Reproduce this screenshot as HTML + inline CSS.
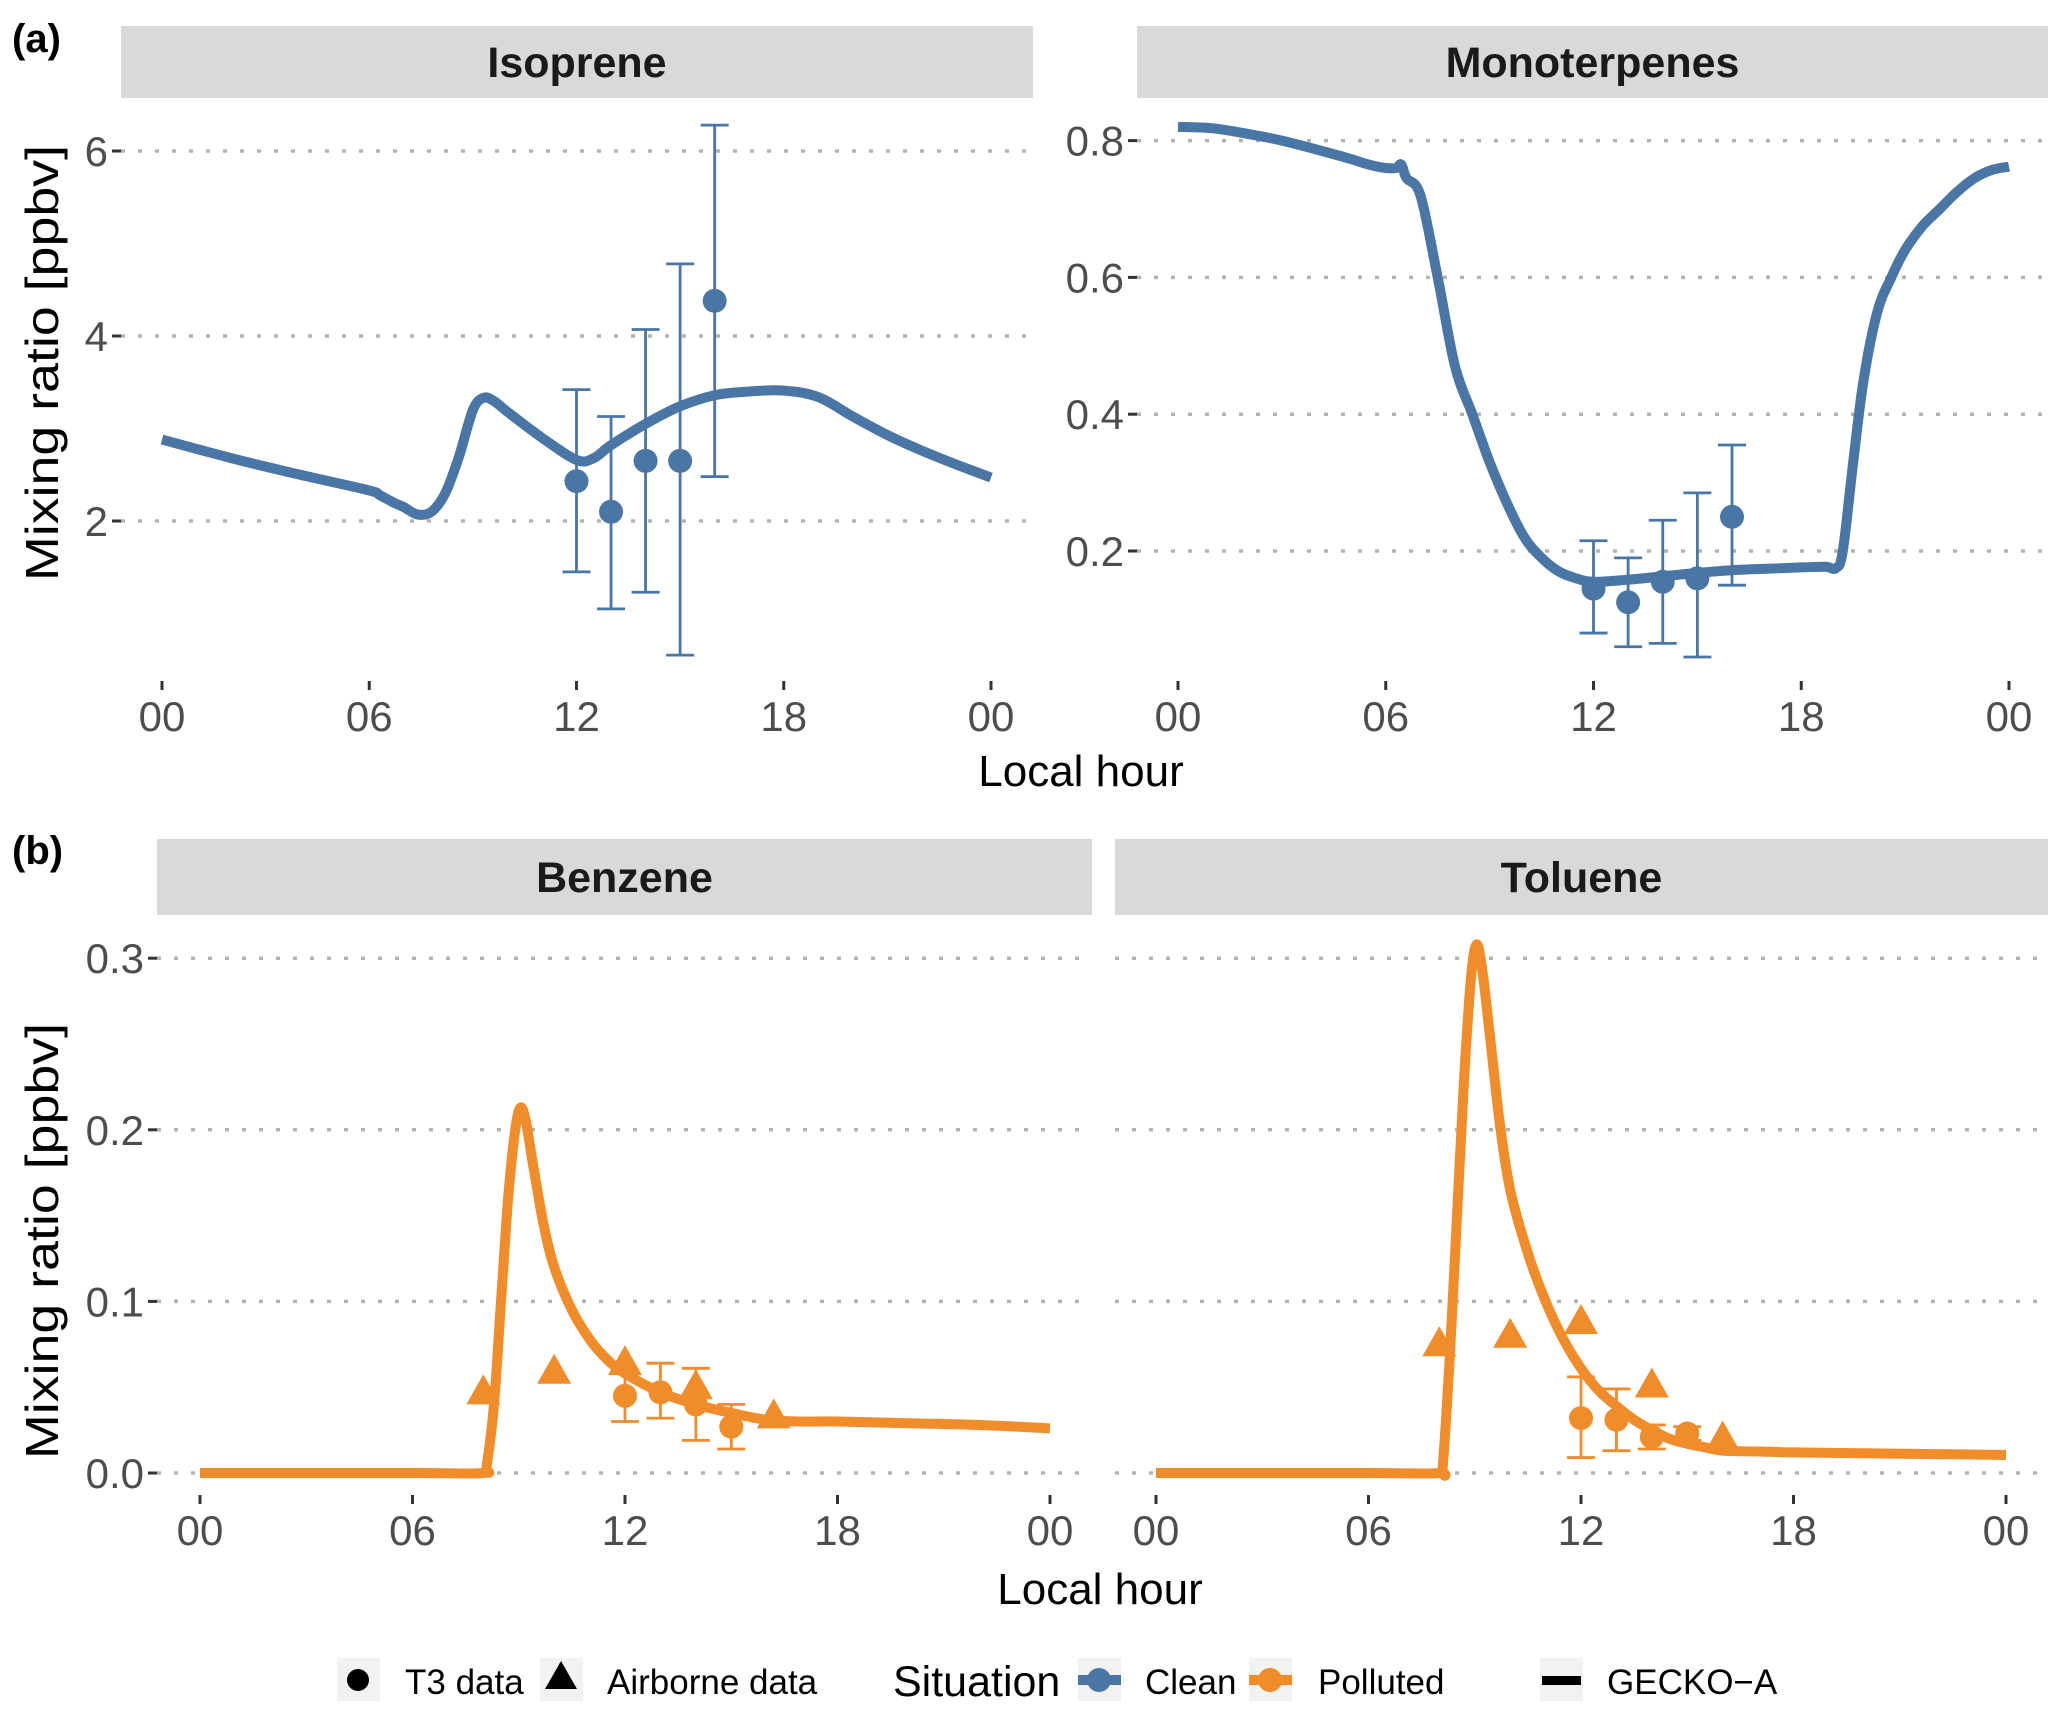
<!DOCTYPE html>
<html><head><meta charset="utf-8"><style>
html,body{margin:0;padding:0;background:#fff;}
svg{display:block;font-family:"Liberation Sans",Arial,sans-serif;}
</style></head><body>
<svg id="chart" width="2067" height="1719" viewBox="0 0 2067 1719" xmlns="http://www.w3.org/2000/svg"></svg>
<script>
// ---- data ----
const isoCurveH = [0,2,4,6,6.3,6.7,7,7.4,7.8,8.2,8.6,9,9.3,9.6,10,11,12,12.5,13,14,15,16,17,18,19,20,21,22,23,24];
const isoCurveV = [2.88,2.68,2.5,2.33,2.28,2.2,2.15,2.07,2.1,2.3,2.7,3.2,3.33,3.3,3.18,2.9,2.66,2.68,2.82,3.05,3.24,3.36,3.4,3.41,3.34,3.13,2.93,2.76,2.61,2.47];
const isoObsH = [12,13,14,15,16];
const isoObsV = [2.43,2.1,2.65,2.65,4.38];
const isoObsLo = [1.45,1.05,1.23,0.55,2.48];
const isoObsHi = [3.42,3.13,4.07,4.78,6.28];

const monoCurveH = [0,1,2,3,4,5,5.5,6,6.3,6.45,6.6,7,7.5,8,8.5,9,9.5,10,10.5,11,11.5,12,13,14,15,16,17,18,18.7,19,19.2,19.5,19.8,20.2,20.6,21,21.5,22,22.5,23,23.5,24];
const monoCurveV = [0.82,0.818,0.81,0.8,0.787,0.773,0.765,0.76,0.76,0.765,0.745,0.72,0.6,0.47,0.4,0.33,0.27,0.22,0.19,0.17,0.16,0.155,0.158,0.163,0.168,0.172,0.174,0.176,0.177,0.175,0.2,0.33,0.45,0.55,0.6,0.64,0.675,0.7,0.725,0.745,0.757,0.762];
const monoObsH = [12,13,14,15,16];
const monoObsV = [0.145,0.125,0.155,0.16,0.25];
const monoObsLo = [0.08,0.06,0.065,0.045,0.15];
const monoObsHi = [0.215,0.19,0.245,0.285,0.355];

const benCurveH = [0,6,8,8.1,8.3,8.5,8.7,8.9,9.05,9.2,9.4,9.7,10,10.5,11,11.5,12,13,14,15,16,17,18,20,22,24];
const benCurveV = [0,0,0,0.005,0.04,0.1,0.16,0.2,0.213,0.205,0.18,0.145,0.12,0.095,0.078,0.066,0.058,0.047,0.04,0.035,0.031,0.03,0.03,0.029,0.028,0.026];
const benTriH = [8,10,12,14,16.2];
const benTriV = [0.047,0.059,0.064,0.05,0.033];
const benObsH = [12,13,14,15];
const benObsV = [0.045,0.047,0.04,0.027];
const benObsLo = [0.03,0.032,0.019,0.014];
const benObsHi = [0.058,0.064,0.061,0.04];

const tolCurveH = [0,6,8,8.1,8.3,8.5,8.7,8.9,9.05,9.2,9.4,9.7,10,10.5,11,11.5,12,12.5,13,13.5,14,14.5,15,15.5,16,17,18,20,22,24];
const tolCurveV = [0,0,0,0.005,0.07,0.15,0.23,0.29,0.308,0.295,0.26,0.205,0.165,0.128,0.1,0.078,0.061,0.048,0.039,0.031,0.025,0.02,0.017,0.015,0.013,0.0125,0.012,0.0115,0.011,0.0105];
const tolTriH = [8,10,12,14,16];
const tolTriV = [0.075,0.08,0.088,0.051,0.02];
const tolObsH = [12,13,14,15];
const tolObsV = [0.032,0.031,0.021,0.023];
const tolObsLo = [0.009,0.013,0.014,0.019];
const tolObsHi = [0.056,0.049,0.028,0.027];

const xTickLabels = ["00","06","12","18","00"];
const isoYTicks = [2,4,6];
const monoYTicks = [0.2,0.4,0.6,0.8];
const bYTicks = [0.0,0.1,0.2,0.3];

const BLUE = "#4a76a5", ORANGE = "#f08c2a";
const NS = "http://www.w3.org/2000/svg";
const svg = document.getElementById("chart");
function el(tag, attrs, parent, text){
  const e = document.createElementNS(NS, tag);
  for (const k in attrs) e.setAttribute(k, attrs[k]);
  if (text !== undefined) e.textContent = text;
  (parent || svg).appendChild(e);
  return e;
}
function smoothPath(P){
  let d = "M" + P[0][0].toFixed(1) + "," + P[0][1].toFixed(1);
  for (let i = 0; i < P.length - 1; i++){
    const p0 = P[i-1] || P[i], p1 = P[i], p2 = P[i+1], p3 = P[i+2] || P[i+1];
    const k = 1/6;
    const c1 = [p1[0] + (p2[0]-p0[0])*k, p1[1] + (p2[1]-p0[1])*k];
    const c2 = [p2[0] - (p3[0]-p1[0])*k, p2[1] - (p3[1]-p1[1])*k];
    d += "C" + c1[0].toFixed(1) + "," + c1[1].toFixed(1) + " " + c2[0].toFixed(1) + "," + c2[1].toFixed(1) + " " + p2[0].toFixed(1) + "," + p2[1].toFixed(1);
  }
  return d;
}

function panel(cfg){
  const g = el("g", {});
  
  
  const sx = h => cfg.x0 + h * (cfg.x1 - cfg.x0) / 24;
  const sy = v => cfg.y0 - (v - cfg.v0) * cfg.py;
  const st = el("rect", {x: cfg.sL, y: cfg.sT, width: cfg.sR - cfg.sL, height: cfg.sB - cfg.sT, fill: "#d9d9d9"}, g);
  
  
  const stt = el("text", {x: (cfg.sL + cfg.sR) / 2, y: (cfg.sT + cfg.sB) / 2 + 15, "text-anchor": "middle", "font-size": 43, "font-weight": "bold", fill: "#1a1a1a"}, g, cfg.title);
  
  
  cfg.yTicks.forEach(v => {
    const y = sy(v);
    const gl = el("line", {x1: cfg.pL, x2: cfg.sR, y1: y, y2: y, stroke: "#b3b3b3", "stroke-width": 3.5, "stroke-dasharray": "4 13"}, g);
    
    
    el("line", {x1: cfg.pL - 9, x2: cfg.pL, y1: y, y2: y, stroke: "#333", "stroke-width": 3}, g);
    const t = el("text", {x: cfg.pL - 13, y: y + 15, "text-anchor": "end", "font-size": 42, fill: "#4d4d4d"}, g, cfg.fmt(v));
    
    
  });
  xTickLabels.forEach((lab, i) => {
    const x = sx(i * 6);
    el("line", {x1: x, x2: x, y1: cfg.axY, y2: cfg.axY + 9, stroke: "#333", "stroke-width": 3}, g);
    const t = el("text", {x: x, y: cfg.axY + 50, "text-anchor": "middle", "font-size": 42, fill: "#4d4d4d"}, g, lab);
    
    
  });
  const P = cfg.cH.map((h, i) => [sx(h), sy(cfg.cV[i])]);
  const line = el("path", {d: smoothPath(P), fill: "none", stroke: cfg.color, "stroke-width": 10, "stroke-linejoin": "round", "stroke-linecap": "butt"}, g);
  
  
  if (cfg.tH) cfg.tH.forEach((h, i) => {
    const x = sx(h), y = sy(cfg.tV[i]);
    const tr = el("polygon", {points: `${x},${y-18} ${x-17},${y+12} ${x+17},${y+12}`, fill: cfg.color}, g);
    
    
  });
  cfg.oH.forEach((h, i) => {
    const x = sx(h);
    const eb = el("path", {d: `M${x},${sy(cfg.oLo[i])}V${sy(cfg.oHi[i])}M${x-14},${sy(cfg.oLo[i])}h28M${x-14},${sy(cfg.oHi[i])}h28`, stroke: cfg.color, "stroke-width": 2.8, fill: "none"}, g);
    
    
    const c = el("circle", {cx: x, cy: sy(cfg.oV[i]), r: 12, fill: cfg.color}, g);
    
    
  });
}

const f1 = v => String(v), f2 = v => v.toFixed(1);
panel({name:"isoprene", title:"Isoprene", color:BLUE, x0:162, x1:991, y0:521, v0:2, py:92.5, pL:121, sL:121, sR:1033, sT:26, sB:98, axY:681, yTicks:isoYTicks, fmt:f1, cH:isoCurveH, cV:isoCurveV, oH:isoObsH, oV:isoObsV, oLo:isoObsLo, oHi:isoObsHi});
panel({name:"monoterpenes", title:"Monoterpenes", color:BLUE, x0:1178, x1:2009, y0:551, v0:0.2, py:684, pL:1137, sL:1137, sR:2048, sT:26, sB:98, axY:681, yTicks:monoYTicks, fmt:f2, cH:monoCurveH, cV:monoCurveV, oH:monoObsH, oV:monoObsV, oLo:monoObsLo, oHi:monoObsHi});
panel({name:"benzene", title:"Benzene", color:ORANGE, x0:200, x1:1050, y0:1473, v0:0, py:1716, pL:157, sL:157, sR:1092, sT:839, sB:915, axY:1495, yTicks:bYTicks, fmt:f2, cH:benCurveH, cV:benCurveV, tH:benTriH, tV:benTriV, oH:benObsH, oV:benObsV, oLo:benObsLo, oHi:benObsHi});
bYTicks.forEach(v => {
  const y = 1473 - v * 1716;
  const gl = el("line", {x1: 1115, x2: 2048, y1: y, y2: y, stroke: "#b3b3b3", "stroke-width": 3.5, "stroke-dasharray": "4 13"});
  
  
});
panel({name:"toluene", title:"Toluene", color:ORANGE, x0:1156, x1:2006, y0:1473, v0:0, py:1716, pL:1115, sL:1115, sR:2048, sT:839, sB:915, axY:1495, yTicks:[], fmt:f2, cH:tolCurveH, cV:tolCurveV, tH:tolTriH, tV:tolTriV, oH:tolObsH, oV:tolObsV, oLo:tolObsLo, oHi:tolObsHi});
</script>
<script>
(function(){
  const NS="http://www.w3.org/2000/svg", svg=document.getElementById("chart");
  function t(x,y,s,txt,name,extra){const e=document.createElementNS(NS,"text");e.setAttribute("x",x);e.setAttribute("y",y);e.setAttribute("font-size",s);for(const k in (extra||{}))e.setAttribute(k,extra[k]);e.textContent=txt;
    
    
    svg.appendChild(e);return e;}
  function r(tag,a,name){const e=document.createElementNS(NS,tag);for(const k in a)e.setAttribute(k,a[k]);
    
    
    svg.appendChild(e);return e;}
  t(12,52,40,"(a)","panel-a-label",{"font-weight":"bold",fill:"#000"});
  t(12,864,40,"(b)","panel-b-label",{"font-weight":"bold",fill:"#000"});
  t(1081,786,44,"Local hour","x-axis-title-a",{"text-anchor":"middle"});
  t(1100,1604,44,"Local hour","x-axis-title-b",{"text-anchor":"middle"});
  t(0,0,46,"Mixing ratio [ppbv]","y-axis-title-a",{"text-anchor":"middle",transform:"translate(58,363) rotate(-90)",textLength:436,lengthAdjust:"spacingAndGlyphs"});
  t(0,0,46,"Mixing ratio [ppbv]","y-axis-title-b",{"text-anchor":"middle",transform:"translate(58,1241) rotate(-90)",textLength:436,lengthAdjust:"spacingAndGlyphs"});
  const keys=[[337,"t3"],[540,"air"],[1078,"clean"],[1249,"polluted"],[1540,"gecko"]];
  keys.forEach(k=>r("rect",{x:k[0],y:1658,width:43,height:43,fill:"#f2f2f2"},"legend-key-bg"));
  r("circle",{cx:358,cy:1680,r:11,fill:"#000"},"legend-t3-symbol");
  r("polygon",{points:"561,1661 545,1689 577,1689",fill:"#000"},"legend-airborne-symbol");
  r("rect",{x:1078,y:1675,width:43,height:10,fill:"#4a76a5"},"legend-clean-line");
  r("circle",{cx:1099,cy:1680,r:12,fill:"#4a76a5"},"legend-clean-dot");
  r("rect",{x:1249,y:1675,width:43,height:10,fill:"#f08c2a"},"legend-polluted-line");
  r("circle",{cx:1270,cy:1680,r:12,fill:"#f08c2a"},"legend-polluted-dot");
  r("rect",{x:1542,y:1676,width:39,height:9,fill:"#000"},"legend-gecko-line");
  t(405,1694,35,"T3 data","legend-t3-label");
  t(607,1694,35,"Airborne data","legend-airborne-label");
  t(893,1696,43,"Situation","legend-title");
  t(1145,1694,35,"Clean","legend-clean-label");
  t(1318,1694,35,"Polluted","legend-polluted-label");
  t(1607,1694,35,"GECKO\u2212A","legend-gecko-label");
})();
</script>
</body></html>
